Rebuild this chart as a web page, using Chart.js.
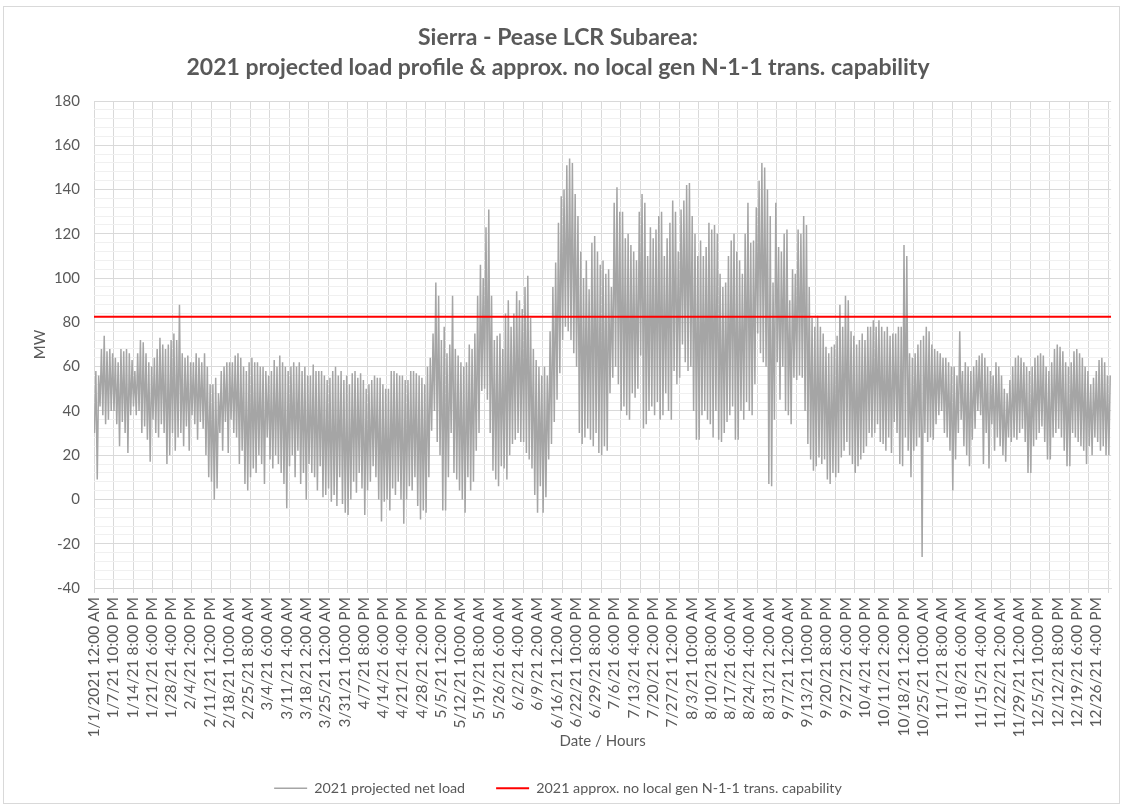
<!DOCTYPE html>
<html>
<head>
<meta charset="utf-8">
<script src="https://cdn.jsdelivr.net/npm/chart.js@4.4.1/dist/chart.umd.min.js"></script>
<style>
    html, body { margin: 0; padding: 0; background: #fff; }
    #frame { position: absolute; left: 3px; top: 6px; width: 1117px; height: 798px; border: 1px solid #d9d9d9; box-sizing: border-box; }
    canvas { display: block; }
</style>
</head>
<body>
<div id="frame"><canvas id="load-chart" width="1115" height="796"></canvas></div>
<script>
// daily peak / minimum of the hourly net load (one row = one week)
const dailyHigh = [
    58, 56, 68, 74, 67, 68, 66,
    64, 62, 68, 67, 68, 66, 63,
    58, 66, 72, 71, 66, 62, 60,
    64, 68, 73, 70, 68, 70, 72,
    75, 72, 88, 66, 64, 65, 62,
    62, 66, 64, 62, 66, 60, 52,
    52, 55, 48, 58, 60, 62, 62,
    62, 65, 66, 64, 60, 58, 62,
    64, 62, 62, 60, 60, 58, 56,
    58, 63, 60, 65, 62, 60, 58,
    60, 62, 60, 62, 58, 60, 56,
    56, 61, 58, 58, 58, 56, 54,
    55, 58, 60, 56, 58, 54, 56,
    52, 57, 58, 55, 57, 54, 50,
    52, 54, 56, 55, 55, 52, 50,
    50, 58, 58, 57, 56, 56, 54,
    54, 58, 58, 57, 56, 55, 52,
    60, 64, 75, 98, 92, 72, 78,
    66, 70, 92, 68, 65, 62, 60,
    62, 70, 68, 75, 92, 106, 100,
    123, 131, 92, 72, 74, 75, 68,
    84, 90, 78, 84, 94, 90, 86,
    96, 101, 82, 68, 63, 60, 56,
    60, 56, 76, 96, 107, 125, 137,
    140, 151, 154, 152, 138, 128, 112,
    100, 108, 95, 116, 119, 112, 106,
    108, 102, 104, 96, 134, 141, 130,
    130, 118, 120, 115, 112, 108, 130,
    138, 134, 110, 123, 118, 122, 128,
    130, 110, 118, 125, 135, 130, 112,
    131, 135, 142, 143, 128, 120, 110,
    117, 110, 114, 125, 122, 124, 120,
    102, 96, 98, 110, 117, 120, 112,
    108, 102, 120, 134, 116, 117, 132,
    144, 152, 150, 140, 128, 98, 134,
    114, 112, 120, 122, 90, 104, 102,
    122, 120, 128, 124, 96, 82, 78,
    83, 78, 75, 69, 66, 69, 70,
    74, 88, 78, 92, 90, 76, 74,
    70, 72, 75, 72, 78, 78, 81,
    78, 81, 78, 76, 78, 74, 75,
    75, 78, 78, 115, 110, 66, 64,
    66, 70, 72, 74, 78, 76, 70,
    68, 67, 66, 64, 64, 62, 60,
    60, 56, 76, 58, 62, 60, 58,
    60, 63, 65, 66, 64, 60, 58,
    56, 62, 60, 56, 50, 48, 54,
    60, 64, 65, 64, 62, 60, 58,
    60, 64, 65, 66, 65, 60, 58,
    62, 68, 70, 69, 67, 62, 60,
    62, 67, 68, 66, 64, 60, 58,
    52, 55, 58, 63, 64, 62, 56,
    56
];
const dailyLow = [
    30, 9, 42, 38, 34, 36, 40,
    40, 34, 24, 35, 30, 21, 38,
    42, 38, 40, 30, 33, 27, 17,
    36, 30, 28, 34, 30, 16, 20,
    30, 22, 28, 30, 24, 33, 22,
    38, 34, 27, 35, 32, 20, 10,
    8, 0, 5, 30, 22, 35, 21,
    36, 30, 28, 16, 22, 7, 4,
    10, 14, 12, 20, 16, 7, 28,
    18, 14, 20, 16, 12, 7, -4,
    15, 20, 10, 22, 7, 12, 0,
    16, 12, 10, 4, 15, 1, 2,
    5, -1, 2, -3, 10, -2, -6,
    -7, 0, 8, 3, 12, 5, -7,
    4, 8, 15, 10, 0, -10, -1,
    0, -5, 5, 2, 8, 0, -11,
    0, 6, 4, 10, -3, -9, -5,
    -6, 10, 31, 40, 26, 20, -5,
    -5, 10, 30, 12, 9, 4, 0,
    -6, 10, 4, 8, 22, 30, 49,
    50, 45, 30, 13, 9, 6, 15,
    14, 9, 20, 25, 27, 30, 26,
    26, 21, 18, 14, 2, -6, 6,
    -6, 1, 18, 25, 35, 45, 57,
    72, 78, 76, 72, 66, 60, 30,
    25, 28, 32, 27, 24, 30, 21,
    20, 24, 22, 48, 55, 60, 52,
    40, 42, 38, 36, 48, 46, 50,
    65, 32, 34, 40, 42, 38, 44,
    36, 38, 48, 40, 36, 58, 52,
    55, 70, 62, 58, 60, 40, 27,
    27, 38, 40, 36, 34, 28, 40,
    27, 26, 30, 35, 38, 42, 27,
    27, 40, 36, 44, 40, 38, 52,
    75, 66, 62, 60, 7, 6, 36,
    62, 45, 60, 40, 38, 34, 55,
    54, 56, 55, 40, 25, 18, 13,
    15, 19, 16, 18, 9, 7, 12,
    10, 12, 19, 22, 26, 20, 16,
    12, 15, 18, 21, 24, 30, 28,
    30, 34, 26, 25, 22, 28, 21,
    35, 30, 16, 15, 28, 22, 10,
    22, 24, 28, -26, 30, 26, 28,
    27, 34, 38, 40, 30, 28, 22,
    4, 18, 30, 36, 24, 20, 15,
    27, 32, 40, 38, 16, 30, 14,
    34, 22, 28, 24, 20, 17, 28,
    26, 28, 27, 30, 32, 26, 12,
    12, 24, 27, 30, 33, 26, 18,
    18, 28, 30, 32, 28, 22, 15,
    15, 30, 28, 26, 24, 22, 16,
    24, 20, 28, 26, 22, 24, 20,
    20
];
const transCapability = 82.5;

// category labels shown every 166 hours
const tickLabels = [
    '1/1/2021 12:00 AM', '1/7/21 10:00 PM', '1/14/21 8:00 PM', '1/21/21 6:00 PM', '1/28/21 4:00 PM',
    '2/4/21 2:00 PM', '2/11/21 12:00 PM', '2/18/21 10:00 AM', '2/25/21 8:00 AM', '3/4/21 6:00 AM',
    '3/11/21 4:00 AM', '3/18/21 2:00 AM', '3/25/21 12:00 AM', '3/31/21 10:00 PM', '4/7/21 8:00 PM',
    '4/14/21 6:00 PM', '4/21/21 4:00 PM', '4/28/21 2:00 PM', '5/5/21 12:00 PM', '5/12/21 10:00 AM',
    '5/19/21 8:00 AM', '5/26/21 6:00 AM', '6/2/21 4:00 AM', '6/9/21 2:00 AM', '6/16/21 12:00 AM',
    '6/22/21 10:00 PM', '6/29/21 8:00 PM', '7/6/21 6:00 PM', '7/13/21 4:00 PM', '7/20/21 2:00 PM',
    '7/27/21 12:00 PM', '8/3/21 10:00 AM', '8/10/21 8:00 AM', '8/17/21 6:00 AM', '8/24/21 4:00 AM',
    '8/31/21 2:00 AM', '9/7/21 12:00 AM', '9/13/21 10:00 PM', '9/20/21 8:00 PM', '9/27/21 6:00 PM',
    '10/4/21 4:00 PM', '10/11/21 2:00 PM', '10/18/21 12:00 PM', '10/25/21 10:00 AM', '11/1/21 8:00 AM',
    '11/8/21 6:00 AM', '11/15/21 4:00 AM', '11/22/21 2:00 AM', '11/29/21 12:00 AM', '12/5/21 10:00 PM',
    '12/12/21 8:00 PM', '12/19/21 6:00 PM', '12/26/21 4:00 PM'
];
const labelStep = 166;   // hours between labels
const gridStep = 168;    // hours between vertical gridlines
const hoursInYear = 8760;

const textColor = '#595959';
const fontFamily = 'Lato, "Open Sans", sans-serif';

const loadPoints = [];
dailyHigh.forEach((hi, d) => {
    loadPoints.push({ x: d * 24 + 4, y: dailyLow[d] });
    loadPoints.push({ x: d * 24 + 16, y: hi });
});

const gridHours = [];
for (let h = 0; h <= hoursInYear; h += gridStep) gridHours.push(h);

const renderChart = () => {
    return new Chart(document.getElementById('load-chart'), {
        type: 'line',
        data: {
            datasets: [{
                label: '2021 projected net load',
                data: loadPoints,
                borderColor: '#a5a5a5',
                borderWidth: 1.5,
                pointRadius: 0,
                tension: 0,
                order: 1
            }, {
                label: '2021 approx. no local gen N-1-1 trans. capability',
                data: [{ x: 0, y: transCapability }, { x: hoursInYear, y: transCapability }],
                borderColor: '#ff0000',
                borderWidth: 2,
                pointRadius: 0,
                order: 0
            }]
        },
        options: {
            responsive: false,
            animation: false,
            layout: { padding: { left: 0, right: 7, top: 0, bottom: 1 } },
            plugins: {
                tooltip: { enabled: false },
                title: {
                    display: true,
                    text: ['Sierra - Pease LCR Subarea:', '2021 projected load profile & approx. no local gen N-1-1 trans. capability'],
                    color: textColor,
                    font: { family: fontFamily, size: 23, weight: 'bold', lineHeight: '30px' },
                    padding: { top: 16, bottom: 18 }
                },
                legend: {
                    position: 'bottom',
                    maxHeight: 52,
                    labels: {
                        usePointStyle: true,
                        pointStyle: 'line',
                        pointStyleWidth: 33,
                        padding: 31,
                        color: textColor,
                        font: { family: fontFamily, size: 14.3 },
                        sort: (a, b) => a.datasetIndex - b.datasetIndex
                    }
                }
            },
            scales: {
                xGrid: {
                    type: 'linear',
                    position: 'bottom',
                    weight: 0,
                    min: 0,
                    max: hoursInYear,
                    afterBuildTicks: s => { s.ticks = gridHours.map(v => ({ value: v })); },
                    afterFit: s => { s.height = 5; },
                    ticks: { display: false },
                    grid: { color: '#d9d9d9', tickLength: 5 },
                    border: { color: '#d9d9d9' }
                },
                x: {
                    type: 'linear',
                    position: 'bottom',
                    weight: 1,
                    min: 0,
                    max: hoursInYear,
                    afterBuildTicks: s => { s.ticks = tickLabels.map((t, i) => ({ value: i * labelStep })); },
                    afterFit: s => { s.height = 157; },
                    ticks: {
                        autoSkip: false,
                        minRotation: 90,
                        maxRotation: 90,
                        padding: 4,
                        color: textColor,
                        font: { family: fontFamily, size: 15.5 },
                        callback: (v, i) => tickLabels[i]
                    },
                    grid: { display: false, drawTicks: false },
                    border: { display: false },
                    title: {
                        display: true,
                        text: 'Date / Hours',
                        color: textColor,
                        font: { family: fontFamily, size: 15 },
                        padding: 0
                    }
                },
                y: {
                    min: -40,
                    max: 180,
                    afterFit: s => { s.width = 90; },
                    ticks: {
                        stepSize: 4,
                        autoSkip: false,
                        padding: 14,
                        color: textColor,
                        font: { family: fontFamily, size: 15 },
                        callback: v => Math.round(v) % 20 === 0 ? Math.round(v) : ''
                    },
                    grid: {
                        drawTicks: false,
                        color: ctx => Math.round(ctx.tick.value) % 20 === 0 ? '#d9d9d9' : '#f0f0f0'
                    },
                    border: { display: false },
                    title: {
                        display: true,
                        text: 'MW',
                        color: textColor,
                        font: { family: fontFamily, size: 15 },
                        padding: { top: 27, bottom: 0 }
                    }
                }
            }
        }
    });
};

renderChart();
</script>
</body>
</html>
